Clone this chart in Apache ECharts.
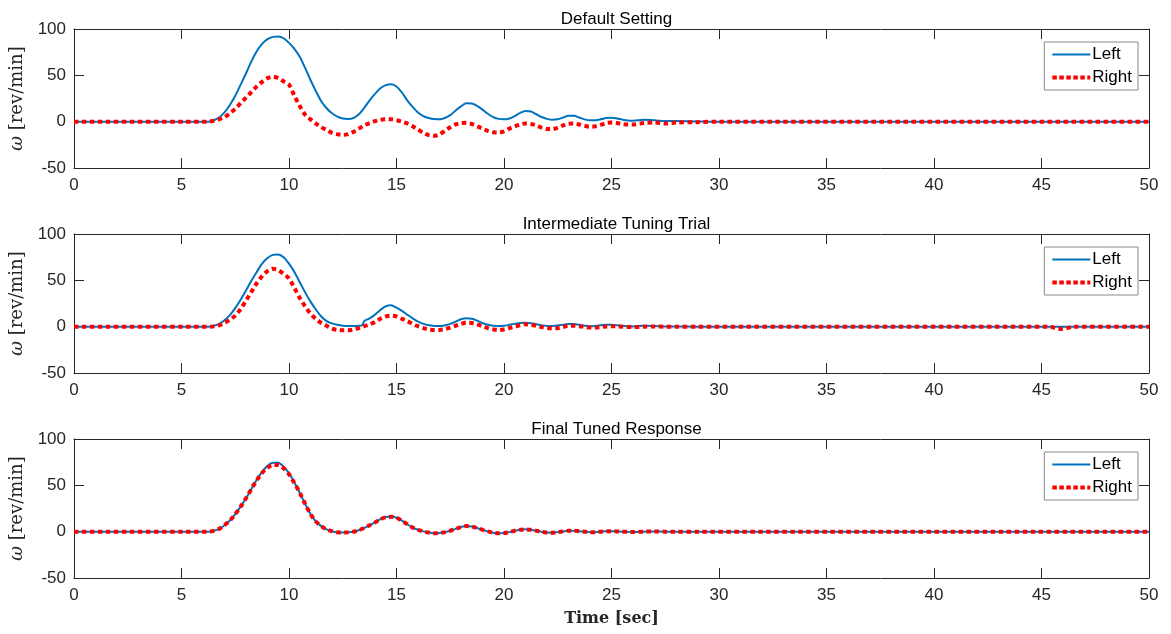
<!DOCTYPE html>
<html>
<head>
<meta charset="utf-8">
<title>Default / Intermediate / Final</title>
<script src="https://cdn.jsdelivr.net/npm/echarts@6/dist/echarts.min.js"></script>
<style>
    html, body { margin: 0; padding: 0; background: #fff; }
    #main { width: 1171px; height: 634px; }
</style>
</head>
<body>
<div id="main"></div>
<script>
// 1. 数据
// 1.1 标题和刻度
let titles = ['Default Setting', 'Intermediate Tuning Trial', 'Final Tuned Response']
let xTicks = [0, 50, 5]
let yTicks = [-50, 100, 50]

// 1.2 默认设置 (每行一秒)
let t1 = [0,
    6, 6.25, 6.5, 6.75, 7, 7.25, 7.5, 7.75, 8, 8.25, 8.5, 8.75, 9, 9.25, 9.5, 9.75,
    10, 10.25, 10.5, 10.75, 11, 11.25, 11.5, 11.75, 12, 12.25, 12.5, 12.75, 13, 13.25, 13.5, 13.75,
    14, 14.25, 14.5, 14.75, 15, 15.25, 15.5, 15.75, 16, 16.25, 16.5, 16.75, 17, 17.25, 17.5, 17.75,
    18, 18.25, 18.5, 18.75, 19, 19.25, 19.5, 19.75, 20, 20.25, 20.5, 20.75, 21, 21.25, 21.5, 21.75,
    22, 22.25, 22.5, 22.75, 23, 23.25, 23.5, 23.75, 24, 24.25, 24.5, 24.75, 25, 25.25, 25.5, 25.75,
    26, 26.5, 27, 27.5, 28, 29, 30, 50]
let left1 = [0,
    0, 0, 1.5, 4.5, 10, 18, 28, 40, 52, 65, 76, 84, 89, 91.5, 92, 90,
    85, 78.5, 70, 58, 45, 33, 22, 14.5, 9, 5.5, 3.5, 3, 4, 8, 15, 23,
    30, 36, 39.5, 40.5, 38, 31.5, 23, 16, 10, 6, 4, 2.8, 2.5, 4, 7, 12,
    16.5, 19.8, 19.5, 17, 13, 8.5, 5, 3, 2.5, 3.5, 6, 9.5, 11.5, 11, 8, 5,
    3, 2, 2.5, 4.5, 6.5, 6.5, 4.5, 2.5, 1.5, 1.5, 2.5, 4, 4.3, 3.5, 2.2, 1.2,
    1, 2, 1.5, 0.6, 0.8, 0.3, 0, 0]
let right1 = [0,
    0, 0, 1, 2.5, 5, 9, 14, 20, 26, 32, 38, 43, 47, 48.5, 47, 43.5,
    40, 28, 17, 7.5, 2.5, -2, -6, -9, -12, -13.5, -14.3, -13.5, -11, -7.5, -4, -1.5,
    0.5, 2, 2.5, 2.5, 1.5, 0, -2, -5, -8.5, -12, -14.5, -15.3, -13.5, -10, -6, -3,
    -1.5, -1.2, -2.5, -5, -7.5, -10, -11.5, -11.8, -10.5, -7.5, -5, -3, -2, -2.5, -4, -6.5,
    -8, -8, -6.5, -4, -2.2, -2, -3, -4.5, -5.5, -5, -3.5, -1.5, -1, -1.5, -2.5, -3,
    -3, -1.5, -1, -2, -1, -0.5, 0, 0]

// 1.3 中间调参 (13.4 秒处左轮有一个小台阶)
let t2 = [0,
    6, 6.25, 6.5, 6.75, 7, 7.25, 7.5, 7.75, 8, 8.25, 8.5, 8.75, 9, 9.25, 9.5, 9.75,
    10, 10.25, 10.5, 10.75, 11, 11.25, 11.5, 11.75, 12, 12.25, 12.5, 12.75, 13, 13.25, 13.4, 13.5, 13.75,
    14, 14.25, 14.5, 14.75, 15, 15.25, 15.5, 15.75, 16, 16.25, 16.5, 16.75, 17, 17.25, 17.5, 17.75,
    18, 18.25, 18.5, 18.75, 19, 19.25, 19.5, 19.75, 20, 20.25, 20.5, 20.75, 21, 21.25, 21.5, 21.75,
    22, 22.25, 22.5, 22.75, 23, 23.25, 23.5, 23.75, 24, 24.25, 24.5, 24.75, 25, 25.25, 25.5, 25.75,
    26, 26.5, 27, 27.5, 28, 29, 45.4, 45.8, 46.2, 46.5, 50]
let left2 = [0,
    0, 0, 1, 3, 7, 12.5, 20, 29, 39, 49.5, 59, 68, 74, 77.5, 78, 75,
    68, 59, 48, 37, 27, 18.5, 11, 6, 3.5, 2, 1, 0.6, 0.6, 1, 1.5, 6, 9,
    13, 18, 22, 23, 20.5, 17, 13, 9, 5.5, 3, 1.5, 0.8, 0.6, 1.5, 3, 5.5,
    8, 9, 8.5, 6.5, 4, 2, 1, 0.7, 1, 2, 3, 4, 4.3, 3.8, 2.5, 1.5,
    0.8, 0.8, 1.2, 2.2, 3, 2.8, 2, 1, 0.5, 0.7, 1.5, 2.2, 2, 1.5, 1, 0.5,
    0.3, 1, 0.8, 0.3, 0.3, 0, 0, 0, 0, 0, 0]
let right2 = [0,
    0, 0, 0.3, 1.5, 4, 7.5, 12, 19, 28, 37.5, 47, 54.5, 60, 62.4, 61, 57,
    52, 42, 31, 22, 14, 8.5, 4, 1, -2, -3.5, -4, -4, -3, -1.5, -0.5, 0.5, 2.5,
    5, 8.5, 11, 12, 11, 8.5, 6, 3, 0.5, -1.5, -3, -3.6, -3.5, -2.5, -1, 1,
    3, 4.3, 4, 2.5, 0.5, -1.5, -3, -3.7, -3, -1.5, 0, 1.5, 2.5, 2, 1, -0.5,
    -1.5, -1.8, -1.5, -0.3, 1, 1, 0.5, -0.3, -1, -1, -0.5, 0.2, 0.5, 0.3, 0, -0.3,
    -0.5, 0, 0.3, 0, 0, 0, 0, -2.5, -1.5, 0, 0]

// 1.4 最终结果
let t3 = [0,
    6, 6.25, 6.5, 6.75, 7, 7.25, 7.5, 7.75, 8, 8.25, 8.5, 8.75, 9, 9.25, 9.5, 9.75,
    10, 10.25, 10.5, 10.75, 11, 11.25, 11.5, 11.75, 12, 12.25, 12.5, 12.75, 13, 13.25, 13.5, 13.75,
    14, 14.25, 14.5, 14.75, 15, 15.25, 15.5, 15.75, 16, 16.25, 16.5, 16.75, 17, 17.25, 17.5, 17.75,
    18, 18.25, 18.5, 18.75, 19, 19.25, 19.5, 19.75, 20, 20.25, 20.5, 20.75, 21, 21.25, 21.5, 21.75,
    22, 22.25, 22.5, 22.75, 23, 23.25, 23.5, 23.75, 24, 24.25, 24.5, 24.75, 25, 25.25, 25.5, 25.75,
    26, 26.5, 27, 27.5, 28, 29, 50]
let left3 = [0,
    0, 0, 1, 3, 7, 12, 19, 27, 36, 46, 56, 64.5, 71, 74.5, 74.5, 70,
    63, 53, 42, 30, 19, 11, 6, 2.5, 0.5, -0.7, -1, -0.7, 0, 1.5, 4, 7,
    10, 13.5, 15.8, 16.5, 15, 12, 8, 4.5, 2, 0.3, -1, -1.7, -1.5, -0.5, 1, 3,
    5, 6, 5.5, 4, 2, 0.3, -1.2, -1.8, -1.5, -0.5, 1, 2, 2.5, 2, 1, 0,
    -1, -1.1, -0.5, 0.3, 1, 1, 0.5, 0, -0.5, -0.5, 0, 0.4, 0.5, 0.3, 0, -0.2,
    -0.3, 0, 0.3, 0, 0, 0, 0]
let right3 = [0,
    0, 0, 1, 3, 7, 12, 19, 27, 36, 46, 55.5, 63.5, 69, 72, 72, 68.5,
    62, 52.5, 42, 30, 19, 11, 6, 2.5, 0.5, -0.7, -1, -0.7, 0, 1.5, 4, 7,
    10, 13.5, 15.5, 16, 15, 12, 8, 4.5, 2, 0.3, -1, -1.7, -1.5, -0.5, 1, 3,
    5, 6, 5.5, 4, 2, 0.3, -1.2, -1.8, -1.5, -0.5, 1, 2, 2.5, 2, 1, 0,
    -1, -1.1, -0.5, 0.3, 1, 1, 0.5, 0, -0.5, -0.5, 0, 0.4, 0.5, 0.3, 0, -0.2,
    -0.3, 0, 0.3, 0, 0, 0, 0]

let panels = [
    { t: t1, left: left1, right: right1 },
    { t: t2, left: left2, right: right2 },
    { t: t3, left: left3, right: right3 },
]

// 2. 样式
let axisColor = '#262626'
let sans = 'Liberation Sans, Arial, sans-serif'
let serif = 'DejaVu Serif, serif'
let plotTop = [29, 234, 439]
let plotH = 139

// 3. 拼装 option
let grid = [], xAxis = [], yAxis = [], series = [], title = [], legend = []

plotTop.forEach(function (top, i) {
    grid.push({ left: 74, right: 22, top: top, height: plotH })

    let lineStyle = { color: axisColor, width: 1 }
    let tick = { show: true, inside: true, length: 10, lineStyle: lineStyle }

    // 3.1 下方和上方的 x 轴
    xAxis.push({
        type: 'value', gridIndex: i, min: xTicks[0], max: xTicks[1], interval: xTicks[2],
        axisLine: { show: true, onZero: false, lineStyle: lineStyle },
        axisTick: tick,
        axisLabel: { fontSize: 17, color: axisColor, fontFamily: sans, margin: 9 },
        splitLine: { show: false },
        name: i == 2 ? 'Time [sec]' : '',
        nameLocation: 'middle',
        nameGap: 33,
        nameTextStyle: { fontFamily: serif, fontWeight: 'bold', fontSize: 16, color: axisColor }
    })
    xAxis.push({
        type: 'value', gridIndex: i, position: 'top', min: xTicks[0], max: xTicks[1], interval: xTicks[2],
        axisLine: { show: true, onZero: false, lineStyle: lineStyle },
        axisTick: tick,
        axisLabel: { show: false },
        splitLine: { show: false }
    })

    // 3.2 左侧和右侧的 y 轴
    yAxis.push({
        type: 'value', gridIndex: i, min: yTicks[0], max: yTicks[1], interval: yTicks[2],
        axisLine: { show: true, onZero: false, lineStyle: lineStyle },
        axisTick: tick,
        axisLabel: { fontSize: 17, color: axisColor, fontFamily: sans, margin: 8 },
        splitLine: { show: false },
        name: '{w|ω} [rev/min]',
        nameLocation: 'middle',
        nameRotate: 90,
        nameGap: 44,
        nameTextStyle: {
            fontFamily: serif, fontSize: 18, color: axisColor,
            rich: { w: { fontFamily: serif, fontStyle: 'italic', fontSize: 18, color: axisColor } }
        }
    })
    yAxis.push({
        type: 'value', gridIndex: i, position: 'right', min: yTicks[0], max: yTicks[1], interval: yTicks[2],
        axisLine: { show: true, onZero: false, lineStyle: lineStyle },
        axisTick: tick,
        axisLabel: { show: false },
        splitLine: { show: false }
    })

    // 3.3 两条曲线
    let p = panels[i]
    series.push({
        name: 'Left', type: 'line', xAxisIndex: 2 * i, yAxisIndex: 2 * i,
        data: p.t.map(function (x, k) { return [x, p.left[k]] }),
        smooth: 0.3, symbol: 'none',
        lineStyle: { color: '#0072BD', width: 2 },
        itemStyle: { color: '#0072BD' }
    })
    series.push({
        name: 'Right', type: 'line', xAxisIndex: 2 * i, yAxisIndex: 2 * i,
        data: p.t.map(function (x, k) { return [x, p.right[k]] }),
        smooth: 0.3, symbol: 'none',
        lineStyle: { color: '#FF0000', width: 4, type: [4.5, 3.5], cap: 'butt' },
        itemStyle: { color: '#FF0000' }
    })

    // 3.4 标题和图例（图例只画线，不画圆点）
    title.push({
        text: titles[i], left: 611.5, textAlign: 'center', top: top - 23,
        textStyle: { fontSize: 17, fontWeight: 'normal', color: '#000', fontFamily: sans }
    })
    legend.push({
        data: [
            { name: 'Left', lineStyle: { width: 2 } },
            { name: 'Right', lineStyle: { width: 4, type: [4.5, 2.5] } }
        ],
        orient: 'vertical', right: 33, top: top + 13,
        itemWidth: 38, itemHeight: 14, itemGap: 6,
        padding: [4, 6, 4, 6],
        borderColor: '#888', borderWidth: 1, backgroundColor: '#fff',
        itemStyle: { opacity: 0 },
        textStyle: { fontSize: 17, color: '#000', fontFamily: sans, padding: [0, 0, 0, -3] }
    })
})

// 4. 初始化
let myChart = echarts.init(document.getElementById('main'))
myChart.setOption({
    animation: false,
    title: title,
    legend: legend,
    grid: grid,
    xAxis: xAxis,
    yAxis: yAxis,
    series: series
})
</script>
</body>
</html>
